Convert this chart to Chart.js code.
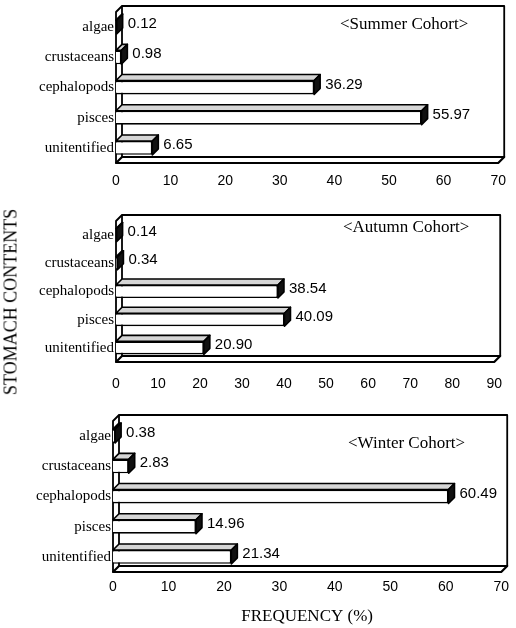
<!DOCTYPE html>
<html>
<head>
<meta charset="utf-8">
<script src="https://cdn.jsdelivr.net/npm/chart.js@4.4.1/dist/chart.umd.min.js"></script>
<style>
  html, body { margin: 0; padding: 0; background: #fff; }
  #wrap { position: relative; width: 516px; height: 628px; overflow: hidden; }
  canvas { position: absolute; left: 0; }
  #ytitle {
    position: absolute; left: 11px; top: 302px;
    transform: translate(-50%, -50%) rotate(-90deg);
    font-family: "Liberation Serif", serif; font-size: 18px;
    white-space: nowrap; color: #000;
  }
</style>
</head>
<body>
<div id="wrap">
  <canvas id="summer" width="516" height="197" style="top:0px"></canvas>
  <canvas id="autumn" width="516" height="200" style="top:197px"></canvas>
  <canvas id="winter" width="516" height="231" style="top:397px"></canvas>
  <div id="ytitle">STOMACH CONTENTS</div>
</div>
<script>
// categories, top to bottom
const categories = ['algae', 'crustaceans', 'cephalopods', 'pisces', 'unitentified'];

// frequency (%) per cohort
const summerValues = [0.12, 0.98, 36.29, 55.97, 6.65];
const autumnValues = [0.14, 0.34, 38.54, 40.09, 20.90];
const winterValues = [0.38, 2.83, 60.49, 14.96, 21.34];

const summerTitle = '<Summer Cohort>';
const autumnTitle = '<Autumn Cohort>';
const winterTitle = '<Winter Cohort>';
const xTitle = 'FREQUENCY (%)';

const summerMax = 70;
const autumnMax = 90;
const winterMax = 70;

const DX = 6, DY = 6;

// draws the 3d box, the bar tops/sides and the value labels
const box3d = {
  id: 'box3d',
  beforeDatasetsDraw(chart) {
    const ctx = chart.ctx;
    const a = chart.chartArea;
    ctx.save();
    ctx.strokeStyle = '#000';
    ctx.lineWidth = 1.8;
    ctx.lineJoin = 'round';
    // back wall
    ctx.strokeRect(a.left + DX, a.top - DY, a.right - a.left, a.bottom - a.top);
    // left wall
    ctx.beginPath();
    ctx.moveTo(a.left, a.bottom);
    ctx.lineTo(a.left, a.top);
    ctx.lineTo(a.left + DX, a.top - DY);
    ctx.stroke();
    // floor
    ctx.fillStyle = '#fff';
    ctx.beginPath();
    ctx.moveTo(a.left, a.bottom);
    ctx.lineTo(a.right, a.bottom);
    ctx.lineTo(a.right + DX, a.bottom - DY);
    ctx.lineTo(a.left + DX, a.bottom - DY);
    ctx.closePath();
    ctx.fill();
    ctx.lineWidth = 2.2;
    ctx.stroke();
    ctx.restore();
  },
  afterDatasetsDraw(chart) {
    const ctx = chart.ctx;
    const meta = chart.getDatasetMeta(0);
    const values = chart.data.datasets[0].data;
    ctx.save();
    ctx.strokeStyle = '#000';
    ctx.lineWidth = 1.6;
    ctx.lineJoin = 'round';
    meta.data.forEach((bar, i) => {
      const p = bar.getProps(['x', 'y', 'base', 'height'], true);
      const top = p.y - p.height / 2;
      const bot = p.y + p.height / 2;
      // top face
      ctx.fillStyle = '#d6d6d6';
      ctx.beginPath();
      ctx.moveTo(p.base, top);
      ctx.lineTo(p.x, top);
      ctx.lineTo(p.x + DX, top - DY);
      ctx.lineTo(p.base + DX, top - DY);
      ctx.closePath();
      ctx.fill();
      ctx.stroke();
      // side face
      ctx.fillStyle = '#111';
      ctx.beginPath();
      ctx.moveTo(p.x, top);
      ctx.lineTo(p.x + DX, top - DY);
      ctx.lineTo(p.x + DX, bot - DY);
      ctx.lineTo(p.x, bot);
      ctx.closePath();
      ctx.fill();
      ctx.stroke();
      // value label
      ctx.fillStyle = '#000';
      ctx.font = '15px "Liberation Sans", Arial, sans-serif';
      ctx.textAlign = 'left';
      ctx.textBaseline = 'middle';
      ctx.fillText(values[i].toFixed(2), p.x + DX + 5, p.y - DY / 2);
    });
    ctx.restore();
  },
  afterDraw(chart) {
    const o = chart.options.plugins.box3d;
    const ctx = chart.ctx;
    ctx.save();
    ctx.fillStyle = '#000';
    ctx.font = '17px "Liberation Serif", "Times New Roman", serif';
    ctx.textAlign = 'left';
    ctx.textBaseline = 'middle';
    ctx.fillText(o.title, o.titleX, o.titleY);
    ctx.restore();
  }
};

function makeChart(id, values, max, opts) {
  const canvas = document.getElementById(id);
  return new Chart(canvas, {
    type: 'bar',
    data: {
      labels: categories,
      datasets: [{
        data: values,
        backgroundColor: '#fff',
        borderColor: '#000',
        borderWidth: 1.6,
        barPercentage: 0.46,
        categoryPercentage: 1
      }]
    },
    options: {
      indexAxis: 'y',
      responsive: false,
      animation: false,
      layout: { padding: { top: opts.top, right: opts.right, left: 0, bottom: 0 } },
      plugins: {
        legend: { display: false },
        tooltip: { enabled: false },
        box3d: { title: opts.title, titleX: opts.titleX, titleY: opts.titleY }
      },
      scales: {
        x: {
          min: 0,
          max: max,
          grid: { display: false, drawTicks: false },
          border: { display: false },
          ticks: {
            stepSize: 10,
            padding: opts.tickPad,
            color: '#000',
            font: { family: '"Liberation Sans", Arial, sans-serif', size: 14 }
          },
          title: {
            display: !!opts.xTitle,
            text: opts.xTitle || '',
            color: '#000',
            padding: { top: 0, bottom: 1 },
            font: { family: '"Liberation Serif", serif', size: 17 }
          },
          afterFit(scale) { scale.height = opts.axisH; }
        },
        y: {
          grid: { display: false, drawTicks: false },
          border: { display: false },
          ticks: {
            padding: 2,
            color: '#000',
            font: { family: '"Liberation Serif", "Times New Roman", serif', size: 15 }
          },
          afterFit(scale) { scale.width = opts.left; }
        }
      }
    },
    plugins: [box3d]
  });
}

makeChart('summer', summerValues, summerMax, {
  top: 12, right: 8, left: 116, axisH: 34, tickPad: 10,
  title: summerTitle, titleX: 340, titleY: 25
});
makeChart('autumn', autumnValues, autumnMax, {
  top: 24, right: 9, left: 116, axisH: 35, tickPad: 14,
  title: autumnTitle, titleX: 343, titleY: 31
});
makeChart('winter', winterValues, winterMax, {
  top: 24, right: 11, left: 113, axisH: 56, tickPad: 7,
  title: winterTitle, titleX: 348, titleY: 47, xTitle: xTitle
});
</script>
</body>
</html>
